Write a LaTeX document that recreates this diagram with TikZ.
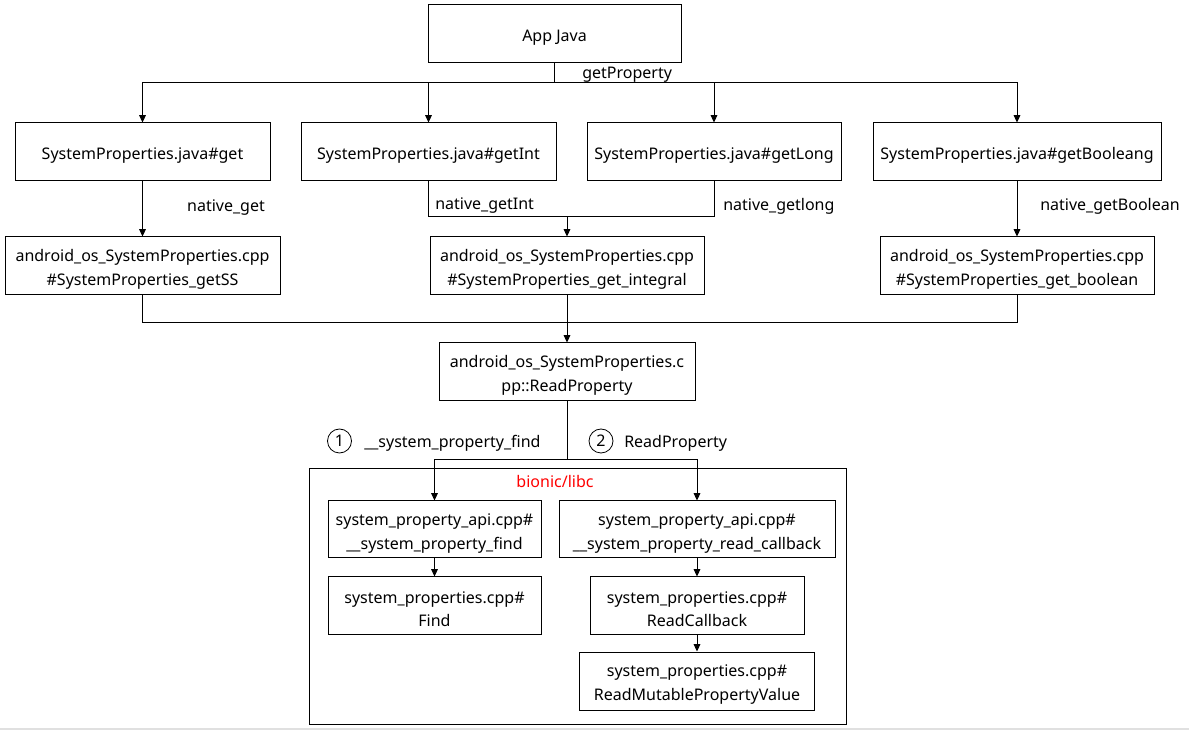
\documentclass[tikz,border=0pt]{standalone}
\usepackage{fontspec}
\setmainfont{Noto Sans}
\usetikzlibrary{arrows.meta}
\newcommand\fl{\rule{0pt}{14.5pt}}
\begin{document}
\begin{tikzpicture}[x=0.75pt,y=-0.75pt,
  every node/.style={font=\fontsize{12pt}{17.8pt}\selectfont},
  bx/.style={draw, line width=0.75pt, align=center, inner sep=0pt},
  lbl/.style={inner sep=0pt},
  arr/.style={-{Triangle[length=5.5pt,width=5pt]}},
  line/.style={line width=0.75pt}]
\useasboundingbox[fill=white] (0,0) rectangle (1189,730);
\fill[black!12] (0,728) rectangle (1189,730);
% boxes
\node[bx, minimum width=189.75pt, minimum height=43.5pt] (app) at (554.5,34) {\fl App Java};
\node[bx, minimum width=191.25pt, minimum height=43.5pt] (j1) at (142.5,152) {\fl SystemProperties.java\#get};
\node[bx, minimum width=191.25pt, minimum height=43.5pt] (j2) at (428.5,152) {\fl SystemProperties.java\#getInt};
\node[bx, minimum width=190.5pt, minimum height=43.5pt] (j3) at (714,152) {\fl SystemProperties.java\#getLong};
\node[bx, minimum width=216pt, minimum height=43.5pt] (j4) at (1017,152) {\fl SystemProperties.java\#getBooleang};
\node[bx, minimum width=206.25pt, minimum height=43.5pt] (c1) at (142.5,266) {\fl android\_os\_SystemProperties.cpp\\\#SystemProperties\_getSS};
\node[bx, minimum width=205.5pt, minimum height=43.5pt] (c2) at (567,266) {\fl android\_os\_SystemProperties.cpp\\\#SystemProperties\_get\_integral};
\node[bx, minimum width=205.5pt, minimum height=43.5pt] (c3) at (1017,266) {\fl android\_os\_SystemProperties.cpp\\\#SystemProperties\_get\_boolean};
\node[bx, minimum width=192pt, minimum height=43.5pt] (rp) at (567,372) {\fl android\_os\_SystemProperties.c\\pp::ReadProperty};
\node[bx, minimum width=402.75pt, minimum height=191.25pt] (lib) at (577.5,596.5) {};
\node[lbl, text=red] (libname) at (555,482) {bionic/libc};
\node[bx, minimum width=159.75pt, minimum height=42.75pt] (a1) at (434.5,529.5) {\fl system\_property\_api.cpp\#\\\_\_system\_property\_find};
\node[bx, minimum width=207pt, minimum height=42.75pt] (b1) at (697,529.5) {\fl system\_property\_api.cpp\#\\\_\_system\_property\_read\_callback};
\node[bx, minimum width=159.75pt, minimum height=42.75pt] (a2) at (434.5,605.5) {\fl system\_properties.cpp\#\\Find};
\node[bx, minimum width=160.5pt, minimum height=42.75pt] (b2) at (697,605.5) {\fl system\_properties.cpp\#\\ReadCallback};
\node[bx, minimum width=176.25pt, minimum height=43.5pt] (b3) at (697,681) {\fl system\_properties.cpp\#\\ReadMutablePropertyValue};
% junction points
\coordinate (bus) at (554.5,83);
\coordinate (m1) at (567,217);
\coordinate (m2) at (567,323);
\coordinate (m3) at (567,460);
% connectors
\draw[line] (app.south) -- (bus);
\draw[line,arr] (bus) -| (j1.north);
\draw[line,arr] (bus) -| (j2.north);
\draw[line,arr] (bus) -| (j3.north);
\draw[line,arr] (bus) -| (j4.north);
\draw[line,arr] (j1.south) -- (c1.north);
\draw[line] (j2.south) |- (m1);
\draw[line] (j3.south) |- (m1);
\draw[line,arr] (m1) -- (c2.north);
\draw[line,arr] (j4.south) -- (c3.north);
\draw[line] (c1.south) |- (m2);
\draw[line] (c3.south) |- (m2);
\draw[line,arr] (c2.south) -- (rp.north);
\draw[line] (rp.south) -- (m3);
\draw[line,arr] (m3) -| (a1.north);
\draw[line,arr] (m3) -| (b1.north);
\draw[line,arr] (a1.south) -- (a2.north);
\draw[line,arr] (b1.south) -- (b2.north);
\draw[line,arr] (b2.south) -- (b3.north);
% labels
\node[lbl, anchor=west] (lgp) at (582,75) {getProperty};
\node[lbl] (lng) at (226,208) {native\_get};
\node[lbl, anchor=west] (lni) at (435,206) {native\_getInt};
\node[lbl, anchor=west] (lnl) at (723,206) {native\_getlong};
\node[lbl, anchor=west] (lnb) at (1040,206) {native\_getBoolean};
\node[draw, circle, line width=0.6pt, minimum size=18pt, inner sep=0pt] (n1) at (339.5,441) {1};
\node[lbl, anchor=west] (lf) at (364,443) {\_\_system\_property\_find};
\node[draw, circle, line width=0.6pt, minimum size=18pt, inner sep=0pt] (n2) at (601,441) {2};
\node[lbl, anchor=west] (lr) at (624,443) {ReadProperty};
\end{tikzpicture}
\end{document}
